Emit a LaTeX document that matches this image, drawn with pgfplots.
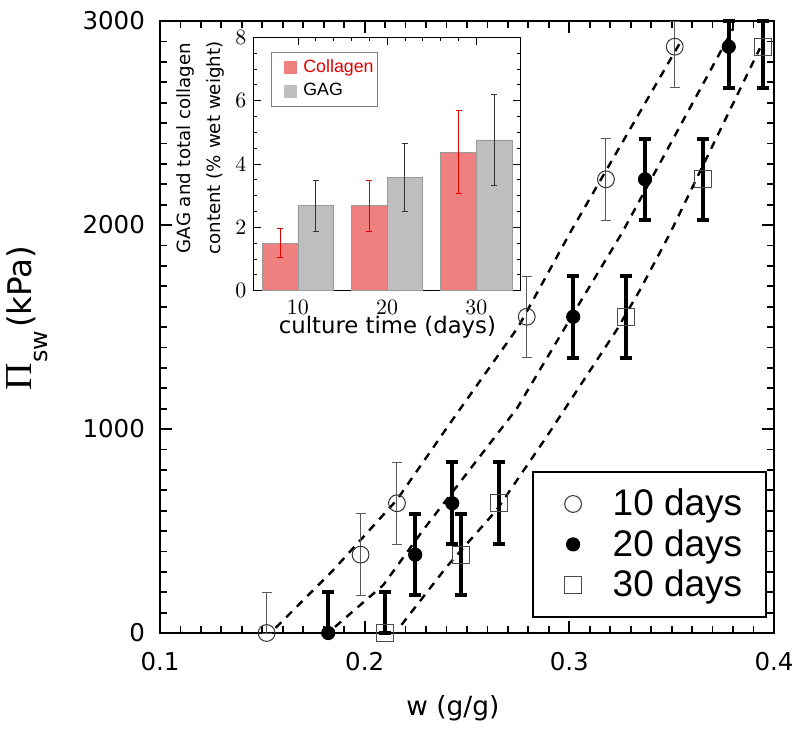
\documentclass[border=0pt]{standalone}
\usepackage{pgfplots}
\pgfplotsset{compat=1.18}
\usepackage{fontspec}
\setmainfont{DejaVu Sans}
\newfontfamily\lib{Liberation Sans}
\newfontfamily\libserif{Liberation Serif}
\definecolor{collagen}{HTML}{F08080}
\definecolor{gag}{HTML}{BEBEBE}

% x, y, error plus, error minus (bars cut at the axis limits 0 and 3000)
\pgfplotstableread{
x y ep em
0.1521 0 200 0
0.1980 384 200 200
0.2158 636 200 200
0.2792 1550 200 200
0.3179 2224 200 200
0.3515 2874 126 200
}\tenD
\pgfplotstableread{
x y ep em
0.1822 0 200 0
0.2247 384 200 200
0.2428 636 200 200
0.3019 1550 200 200
0.3370 2224 200 200
0.3779 2874 126 200
}\twentyD
\pgfplotstableread{
x y ep em
0.2098 0 200 0
0.2471 384 200 200
0.2658 636 200 200
0.3277 1550 200 200
0.3653 2224 200 200
0.3948 2874 126 200
}\thirtyD
\pgfplotstableread{
x y e
8 1.50 0.45
18 2.68 0.80
28 4.37 1.31
}\coll
\pgfplotstableread{
x y e
12 2.68 0.80
22 3.57 1.07
32 4.76 1.43
}\gagt

\begin{document}
\begin{tikzpicture}
\useasboundingbox (-80pt,-48.5pt) rectangle (320pt,316.5pt);
\begin{axis}[
 at={(0pt,0pt)}, anchor=south west,
 scale only axis, width=307pt, height=306pt,
 xmin=0.1, xmax=0.4, ymin=0, ymax=3000,
 clip=false,
 axis line style={line width=1pt},
 every tick/.style={black, line width=0.9pt},
 major tick length=6pt, minor tick length=3.5pt,
 tick align=inside, tick pos=both,
 xtick={0.1,0.2,0.3,0.4}, xticklabels={0.1,0.2,0.3,0.4},
 ytick={0,1000,2000,3000}, yticklabels={0,1000,2000,3000},
 minor x tick num=9, minor y tick num=9,
 ticklabel style={font=\fontsize{12.25}{14}\selectfont},
 xticklabel style={yshift=-6pt},
 yticklabel style={xshift=-4pt},
 xlabel={w (g/g)},
 xlabel style={at={(axis description cs:0.477,-0.1225)}, anchor=center, font=\fontsize{13.2}{15}\selectfont},
 ylabel={{\libserif\fontsize{19}{19}\selectfont Π}\raisebox{-8pt}{\fontsize{11.9}{12}\selectfont sw}\hspace{1.5pt}{\fontsize{16.3}{18}\selectfont (kPa)}},
 ylabel style={at={(axis description cs:-0.216,0.515)}, anchor=center},
 legend style={at={(axis description cs:0.6054,0.025)}, anchor=south west, draw=black, line width=1pt,
   font=\lib\fontsize{18.5}{20}\selectfont, inner xsep=10pt, inner ysep=6.5pt, row sep=1.3pt},
 legend cell align=left,
 legend image code/.code={\path[draw=none,fill=none] (0pt,0pt) -- (28pt,0pt);
   \draw[#1] plot coordinates {(10.2pt,0pt)};},
]
\addplot[forget plot, black, line width=1.2pt, dash pattern=on 4pt off 3.5pt] coordinates {
(0.1565,25) (0.1847,309) (0.2157,652) (0.2417,1028) (0.2751,1501) (0.3011,1975) (0.3549,2907)};
\addplot[forget plot, black, line width=1.2pt, dash pattern=on 4pt off 3.5pt] coordinates {
(0.1855,30) (0.2091,235) (0.2286,505) (0.2744,1101) (0.3052,1620) (0.3256,1959) (0.3801,2964)};
\addplot[forget plot, black, line width=1.2pt, dash pattern=on 4pt off 3.5pt] coordinates {
(0.218,40) (0.2401,325) (0.2645,603) (0.2889,962) (0.3231,1485) (0.3345,1681) (0.3492,1959) (0.3931,2866)};

\addplot[only marks, mark=o, mark size=4.2pt, mark options={draw=black!80, line width=0.5pt, fill=none},
  error bars/.cd, y dir=both, y explicit,
  error bar style={line width=0.5pt, black!65},
  error mark options={rotate=90, mark size=2.5pt, line width=0.5pt, black!65}]
  table[x=x, y=y, y error plus=ep, y error minus=em] {\tenD};
\addlegendentry{10 days}
\addplot[only marks, mark=*, mark size=3.3pt, mark options={fill=black, draw=black, line width=0.5pt},
  error bars/.cd, y dir=both, y explicit,
  error bar style={line width=2pt, black},
  error mark options={rotate=90, mark size=3pt, line width=2pt, black}]
  table[x=x, y=y, y error plus=ep, y error minus=em] {\twentyD};
\addlegendentry{20 days}
\addplot[only marks, mark=square, mark size=4.2pt, mark options={draw=black!70, line width=0.5pt, fill=none},
  error bars/.cd, y dir=both, y explicit,
  error bar style={line width=2pt, black},
  error mark options={rotate=90, mark size=3pt, line width=2pt, black}]
  table[x=x, y=y, y error plus=ep, y error minus=em] {\thirtyD};
\addlegendentry{30 days}
\end{axis}

\begin{axis}[
 at={(46.65pt,171.15pt)}, anchor=south west,
 scale only axis, width=133.85pt, height=126.7pt,
 xmin=5, xmax=35, ymin=0, ymax=8,
 axis background/.style={fill=white},
 axis line style={line width=0.5pt},
 xtick={10,20,30}, ytick={0,2,4,6,8},
 minor x tick num=4, minor y tick num=3,
 tick align=inside, tick pos=both,
 major tick length=4pt, minor tick length=2pt,
 every tick/.style={black, line width=0.4pt},
 ticklabel style={font=\fontsize{10.5}{12}\selectfont},
 xticklabel style={inner sep=1pt, yshift=-3.5pt},
 xlabel={culture time (days)},
 xlabel style={at={(axis description cs:0.501,-0.145)}, anchor=center, inner sep=0.5pt, font=\fontsize{11.4}{13}\selectfont},
 ylabel={GAG and total collagen\\[4pt]content (\% wet weight)},
 ylabel style={at={(axis description cs:-0.198,0.563)}, anchor=center, align=center, font=\fontsize{9.1}{11}\selectfont},
 legend style={at={(axis description cs:0.065,0.941)}, anchor=north west, draw=black!50, line width=0.4pt,
   font=\lib\fontsize{8.9}{10}\selectfont, inner xsep=0pt, inner ysep=1.5pt, row sep=0pt},
 legend cell align=left,
 legend image code/.code={\path[draw=none,fill=none] (-6.4pt,0pt) -- (7.75pt,0pt);
   \fill[#1, draw=none] (0pt,-3.25pt) rectangle (6.5pt,3.25pt);},
]
\addplot[ybar, bar width=4, bar shift=0pt, fill=collagen, draw=black!40, line width=0.4pt,
  error bars/.cd, y dir=both, y explicit,
  error bar style={line width=0.5pt, red!90!black},
  error mark options={rotate=90, mark size=1.5pt, line width=0.5pt, red!90!black}]
  table[x=x, y=y, y error=e] {\coll};
\addlegendentry{\textcolor{red!90!black}{Collagen}}
\addplot[ybar, bar width=4, bar shift=0pt, fill=gag, draw=black!40, line width=0.4pt,
  error bars/.cd, y dir=both, y explicit,
  error bar style={line width=0.5pt, black!80},
  error mark options={rotate=90, mark size=1.5pt, line width=0.5pt, black!80}]
  table[x=x, y=y, y error=e] {\gagt};
\addlegendentry{GAG}
\end{axis}
\end{tikzpicture}
\end{document}
